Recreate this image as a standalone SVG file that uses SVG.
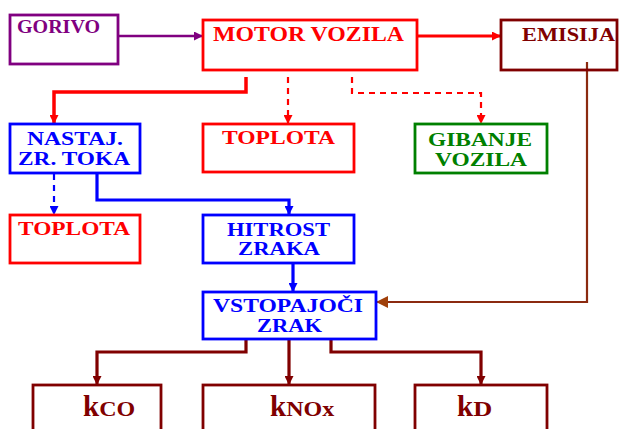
<svg xmlns="http://www.w3.org/2000/svg" width="621" height="429" viewBox="0 0 621 429">
  <style>
    .box { fill: #ffffff; stroke-width: 2.8; }
    .lbl { font-family: "Liberation Serif", "Times New Roman", serif; font-weight: bold; font-size: 19px; }
    .k { font-family: "Liberation Serif", "Times New Roman", serif; font-weight: bold; font-size: 29px; fill: #800000; }
    .sub { font-size: 20px; }
    .c { fill: none; stroke-linejoin: miter; }
    .dash { stroke-dasharray: 6 5; stroke-width: 2.2; }
  </style>
  <defs>
    <marker id="ah-purple" viewBox="0 0 10 10" refX="10" refY="5" markerWidth="10" markerHeight="9" markerUnits="userSpaceOnUse" orient="auto">
      <path d="M0,0 L10,5 L0,10 z" fill="#800080"/>
    </marker>
    <marker id="ah-red" viewBox="0 0 10 10" refX="10" refY="5" markerWidth="9" markerHeight="9" markerUnits="userSpaceOnUse" orient="auto">
      <path d="M0,0 L10,5 L0,10 z" fill="#ff0000"/>
    </marker>
    <marker id="ah-blue" viewBox="0 0 10 10" refX="10" refY="5" markerWidth="9" markerHeight="9" markerUnits="userSpaceOnUse" orient="auto">
      <path d="M0,0 L10,5 L0,10 z" fill="#0000ff"/>
    </marker>
    <marker id="ah-brown" viewBox="0 0 10 10" refX="10" refY="5" markerWidth="16" markerHeight="12" markerUnits="userSpaceOnUse" orient="auto">
      <path d="M0,0 L10,5 L0,10 z" fill="#a0400a"/>
    </marker>
    <marker id="ah-dred" viewBox="0 0 10 10" refX="10" refY="5" markerWidth="9" markerHeight="9" markerUnits="userSpaceOnUse" orient="auto">
      <path d="M0,0 L10,5 L0,10 z" fill="#800000"/>
    </marker>
  </defs>

  <!-- connectors -->
  <g id="connectors">
    <path class="c" d="M118,36 H203" stroke="#800080" stroke-width="2.6" marker-end="url(#ah-purple)"/>
    <path class="c" d="M417,36 H501" stroke="#ff0000" stroke-width="2.8" marker-end="url(#ah-red)"/>
    <path class="c" d="M246,77 V92 H54 V124" stroke="#ff0000" stroke-width="3.5" marker-end="url(#ah-red)"/>
    <path class="c dash" d="M288,77 V124" stroke="#ff0000" marker-end="url(#ah-red)"/>
    <path class="c dash" d="M352,77 V93 H481 V124" stroke="#ff0000" marker-end="url(#ah-red)"/>
    <path class="c dash" d="M54,174 V215" stroke="#0000ff" marker-end="url(#ah-blue)"/>
    <path class="c" d="M97,172 V200 H289 V215" stroke="#0000ff" stroke-width="3.2" marker-end="url(#ah-blue)"/>
    <path class="c" d="M293,263 V292" stroke="#0000ff" stroke-width="3.2" marker-end="url(#ah-blue)"/>
    <path class="c" d="M587,62 V302 H376" stroke="#8b2a10" stroke-width="2.2" marker-end="url(#ah-brown)"/>
    <path class="c" d="M246,339 V352 H97 V385" stroke="#800000" stroke-width="3.2" marker-end="url(#ah-dred)"/>
    <path class="c" d="M289,339 V385" stroke="#800000" stroke-width="3.2" marker-end="url(#ah-dred)"/>
    <path class="c" d="M331,339 V352 H481 V385" stroke="#800000" stroke-width="3.2" marker-end="url(#ah-dred)"/>
  </g>

  <g id="gorivo">
    <rect class="box" x="10" y="15" width="108" height="49" stroke="#800080"/>
    <text class="lbl" x="17" y="33" fill="#800080" textLength="83" lengthAdjust="spacingAndGlyphs" font-size="16">GORIVO</text>
  </g>

  <g id="motor">
    <rect class="box" x="203" y="20" width="214" height="50" stroke="#ff0000"/>
    <text class="lbl" x="213" y="41" fill="#ff0000" textLength="191" lengthAdjust="spacingAndGlyphs" style="font-size:20px">MOTOR VOZILA</text>
  </g>

  <g id="emisija">
    <rect class="box" x="501" y="20" width="116" height="50" stroke="#800000" style="fill:none"/>
    <text class="lbl" x="522" y="41" fill="#800000" textLength="93" lengthAdjust="spacingAndGlyphs">EMISIJA</text>
  </g>

  <g id="nastaj">
    <rect class="box" x="10" y="124" width="130" height="49" stroke="#0000ff"/>
    <text class="lbl" x="27" y="145" fill="#0000ff" textLength="96" lengthAdjust="spacingAndGlyphs">NASTAJ.</text>
    <text class="lbl" x="18" y="165" fill="#0000ff" textLength="112" lengthAdjust="spacingAndGlyphs">ZR. TOKA</text>
  </g>

  <g id="toplota-motor">
    <rect class="box" x="203" y="124" width="151" height="48" stroke="#ff0000"/>
    <text class="lbl" x="222" y="144" fill="#ff0000" textLength="113" lengthAdjust="spacingAndGlyphs">TOPLOTA</text>
  </g>

  <g id="gibanje">
    <rect class="box" x="415" y="124" width="132" height="49" stroke="#008000"/>
    <text class="lbl" x="428" y="146" fill="#008000" textLength="104" lengthAdjust="spacingAndGlyphs">GIBANJE</text>
    <text class="lbl" x="435" y="166" fill="#008000" textLength="92" lengthAdjust="spacingAndGlyphs">VOZILA</text>
  </g>

  <g id="toplota-tok">
    <rect class="box" x="10" y="215" width="130" height="48" stroke="#ff0000"/>
    <text class="lbl" x="18" y="235" fill="#ff0000" textLength="112" lengthAdjust="spacingAndGlyphs">TOPLOTA</text>
  </g>

  <g id="hitrost">
    <rect class="box" x="203" y="215" width="151" height="48" stroke="#0000ff"/>
    <text class="lbl" x="227" y="236" fill="#0000ff" textLength="103" lengthAdjust="spacingAndGlyphs">HITROST</text>
    <text class="lbl" x="238" y="255" fill="#0000ff" textLength="82" lengthAdjust="spacingAndGlyphs">ZRAKA</text>
  </g>

  <g id="vstopajoci">
    <rect class="box" x="203" y="292" width="173" height="47" stroke="#0000ff"/>
    <text class="lbl" x="213" y="312" fill="#0000ff" textLength="150" lengthAdjust="spacingAndGlyphs">VSTOPAJOČI</text>
    <text class="lbl" x="257" y="332" fill="#0000ff" textLength="65" lengthAdjust="spacingAndGlyphs">ZRAK</text>
  </g>

  <g id="k-co">
    <rect class="box" x="33" y="385" width="128" height="60" stroke="#800000"/>
    <text class="k" x="83" y="416">k<tspan class="sub" textLength="36" lengthAdjust="spacingAndGlyphs">CO</tspan></text>
  </g>

  <g id="k-nox">
    <rect class="box" x="203" y="385" width="172" height="60" stroke="#800000"/>
    <text class="k" x="270" y="416">k<tspan class="sub" textLength="48" lengthAdjust="spacingAndGlyphs">NOx</tspan></text>
  </g>

  <g id="k-d">
    <rect class="box" x="415" y="385" width="132" height="60" stroke="#800000"/>
    <text class="k" x="457" y="416">k<tspan class="sub" textLength="19" lengthAdjust="spacingAndGlyphs">D</tspan></text>
  </g>
</svg>
